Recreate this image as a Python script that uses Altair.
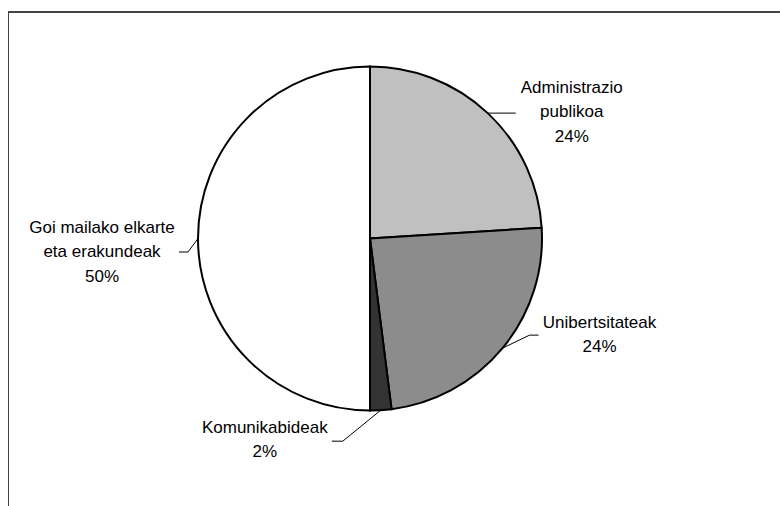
import math
import altair as alt
import pandas as pd

# ---- data ----
categories = ["Administrazio publikoa", "Unibertsitateak", "Komunikabideak",
              "Goi mailako elkarte eta erakundeak"]
label_lines = [["Administrazio", "publikoa"], ["Unibertsitateak"], ["Komunikabideak"],
               ["Goi mailako elkarte", "eta erakundeak"]]
shares = [24, 24, 2, 50]

# ---- styles / layout ----
fills = ["#c0c0c0", "#8c8c8c", "#333333", "#ffffff"]
W, H = 780, 506
CX, CY, R = 370, 238.5, 172
FONT = "Liberation Sans"
LINE_H = 24.5
# leader elbow, leader end, text-block centre offsets relative to the slice's edge point
label_layout = {
    "Administrazio publikoa": [(28, 0), (28, 0), (84, -1)],
    "Unibertsitateak": [(27, -13), (36, -13), (97, -13)],
    "Komunikabideak": [(-38, 31), (-49, 31), (-116, 30)],
    "Goi mailako elkarte eta erakundeak": [(-10, 13.5), (-19, 13.5), (-96, 13.5)],
}

total = sum(shares)
rows, pts, texts = [], [], []
cum = 0
for i, (cat, s, lines) in enumerate(zip(categories, shares, label_lines)):
    rows.append({"category": cat, "share": s, "idx": i})
    mid = (cum + s / 2) / total * 2 * math.pi
    cum += s
    ex, ey = CX + R * math.sin(mid), CY - R * math.cos(mid)
    elbow, end, tpos = label_layout[cat]
    pts.append({"category": cat, "step": 0, "x": ex, "y": ey})
    pts.append({"category": cat, "step": 1, "x": ex + elbow[0], "y": ey + elbow[1]})
    pts.append({"category": cat, "step": 2, "x": ex + end[0], "y": ey + end[1]})
    all_lines = lines + [f"{s}%"]
    first_y = ey + tpos[1] - (len(all_lines) - 1) * LINE_H / 2
    texts.append({"category": cat, "x": ex + tpos[0], "y": first_y,
                  "label": "\n".join(all_lines)})

df = pd.DataFrame(rows)
pts_df = pd.DataFrame(pts)
txt_df = pd.DataFrame(texts)

xs = alt.Scale(domain=[0, W], range=[0, W], nice=False, zero=False)
ys = alt.Scale(domain=[0, H], range=[0, H], nice=False, zero=False)

pie = alt.Chart(df).mark_arc(radius=R, stroke="black", strokeWidth=2).encode(
    theta=alt.Theta("share:Q", stack=True),
    color=alt.Color("category:N", scale=alt.Scale(domain=categories, range=fills), legend=None),
    order=alt.Order("idx:Q"),
    x=alt.value(CX),
    y=alt.value(CY),
)

leaders = alt.Chart(pts_df).mark_line(color="black", strokeWidth=1).encode(
    x=alt.X("x:Q", scale=xs, axis=None),
    y=alt.Y("y:Q", scale=ys, axis=None),
    detail="category:N",
    order="step:Q",
)

labels = alt.Chart(txt_df).mark_text(
    font=FONT, fontSize=17, lineBreak="\n", lineHeight=LINE_H,
    align="center", baseline="middle", color="black",
).encode(
    x=alt.X("x:Q", scale=xs, axis=None),
    y=alt.Y("y:Q", scale=ys, axis=None),
    text="label:N",
)

one = pd.DataFrame({"a": [0]})
frame_top = alt.Chart(one).mark_rule(color="#444444", strokeWidth=2).encode(
    x=alt.value(8), x2=alt.value(W), y=alt.value(12))
frame_left = alt.Chart(one).mark_rule(color="#444444", strokeWidth=1).encode(
    x=alt.value(8.5), y=alt.value(12), y2=alt.value(H))

chart = alt.layer(frame_top, frame_left, pie, leaders, labels).properties(
    width=W, height=H, padding=0, autosize=alt.AutoSizeParams(type="none"),
    background="white",
).configure_view(stroke=None)

chart.save("out.html", embed_options={"renderer": "svg", "actions": False})
